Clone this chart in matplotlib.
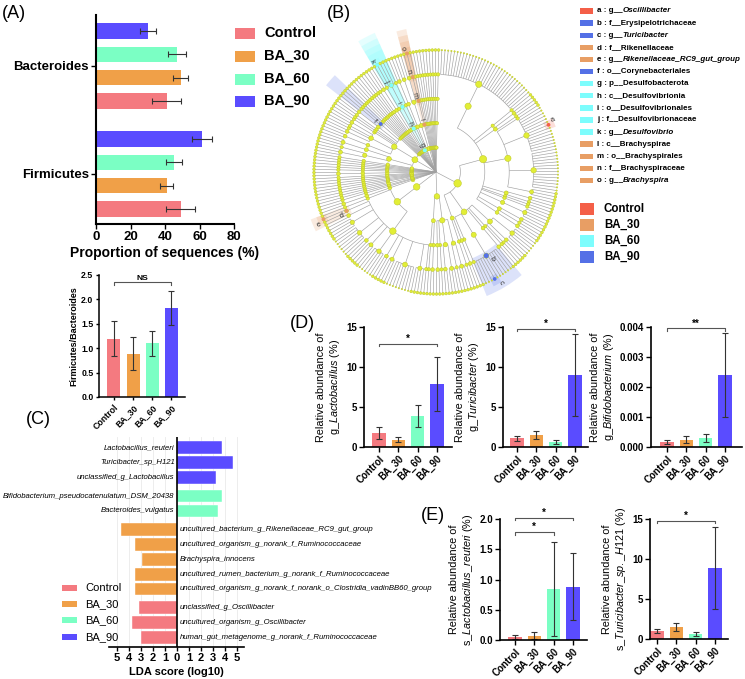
import numpy as np
import matplotlib
matplotlib.use('Agg')
import matplotlib.pyplot as plt
from matplotlib.patches import Wedge, Rectangle
from matplotlib.collections import LineCollection

plt.rcParams['font.family'] = ['Liberation Sans', 'DejaVu Sans']
plt.rcParams['mathtext.fontset'] = 'custom'
plt.rcParams['mathtext.rm'] = 'Liberation Sans'
plt.rcParams['mathtext.it'] = 'Liberation Sans:italic'
plt.rcParams['mathtext.bf'] = 'Liberation Sans:bold'

W, H = 745, 679

# ---------------- data ----------------
groups = ['Control', 'BA_30', 'BA_60', 'BA_90']
bar_colors = ['#F47A80', '#F0A048', '#7BFFC4', '#5A4CFF']

# (A) phylum proportions: rows = groups, cols = phyla
phyla_A = ['Firmicutes', 'Bacteroides']
prop_mean = [[49.0, 41.0], [41.0, 49.0], [45.0, 47.0], [61.5, 30.0]]
prop_err = [[8.5, 8.3], [3.7, 4.5], [4.7, 5.0], [5.7, 4.7]]

# Firmicutes / Bacteroides ratio
fb_mean = [1.19, 0.89, 1.10, 1.83]
fb_err = [0.36, 0.34, 0.25, 0.35]

# (C) LDA
lda_names = ['Lactobacillus_reuteri', 'Turicibacter_sp_H121', 'unclassified_g_Lactobacillus',
             'Bifidobacterium_pseudocatenulatum_DSM_20438', 'Bacteroides_vulgatus',
             'uncultured_bacterium_g_Rikenellaceae_RC9_gut_group',
             'uncultured_organism_g_norank_f_Ruminococcaceae', 'Brachyspira_innocens',
             'uncultured_rumen_bacterium_g_norank_f_Ruminococcaceae',
             'uncultured_organism_g_norank_f_norank_o_Clostridia_vadinBB60_group',
             'unclassified_g_Oscillibacter', 'uncultured_organism_g_Oscillibacter',
             'human_gut_metagenome_g_norank_f_Ruminococcaceae']
lda_scores = [3.75, 4.7, 3.25, 3.75, 3.4, -4.64, -3.47, -2.94, -3.47, -3.47, -3.17, -3.78, -3.0]
lda_groups = [3, 3, 3, 2, 2, 1, 1, 1, 1, 1, 0, 0, 0]

# (D)
lacto_mean = [1.8, 0.9, 3.85, 7.9]
lacto_err = [0.75, 0.3, 1.35, 3.4]
turi_mean = [1.1, 1.5, 0.6, 9.0]
turi_err = [0.3, 0.5, 0.28, 5.1]
bifido_mean = [0.00017, 0.00025, 0.00030, 0.0024]
bifido_err = [0.00008, 0.00013, 0.00013, 0.0014]
# (E)
reuteri_mean = [0.05, 0.07, 0.84, 0.88]
reuteri_err = [0.03, 0.06, 0.78, 0.55]
turisp_mean = [1.0, 1.5, 0.62, 8.9]
turisp_err = [0.3, 0.45, 0.28, 5.1]

# (B) cladogram: phylum -> classes -> orders -> families (number of genera)
firmicutes = [[[32], [1], [2, 1], [1, 14, 14, 3], [2, 1], [1], [1], [4], [2, 1], [2]],
              [[5, 2, 1], [1], [2], [10], [1]],
              [[2], [1]]]
proteobacteria = [[[3, 1], [3, 2], [1], [2]], [[2], [1]]]
bacteroidota = [[[1, 4, 8, 3, 2, 5, 3, 2, 6, 4, 2, 2], [1]]]
actinobacteriota = [[[3, 1], [3]], [[2], [2, 1, 1, 2], [1], [1], [1], [2], [1, 1]], [[1]], [[1]]]
desulfobacterota = [[[3]]]
spirochaetota = [[[2, 2]], [[1]]]
single = [[[1]]]
clado_tree = ([firmicutes, proteobacteria, bacteroidota, [[[2]]], single, single,
               [[[1], [1]]], [[[1]], [[1]]], single, [[[1]], [[1]]], [[[1]], [[2]]]]
              + [single] * 6 + [actinobacteriota] + [single] * 7 + [[[[2]]], single,
              desulfobacterota, single, [[[2]]], spirochaetota] + [single] * 10)

clade_letters = list('abcdefghijklmno')
clade_prefix = ['g__', 'f__', 'g__', 'f__', 'g__', 'o__', 'p__', 'c__', 'o__', 'f__', 'g__',
                'c__', 'o__', 'f__', 'g__']
clade_taxa = ['Oscillibacter', 'Erysipelotrichaceae', 'Turicibacter', 'Rikenellaceae',
              'Rikenellaceae_RC9_gut_group', 'Corynebacteriales', 'Desulfobacterota',
              'Desulfovibrionia', 'Desulfovibrionales', 'Desulfovibrionaceae', 'Desulfovibrio',
              'Brachyspirae', 'Brachyspirales', 'Brachyspiraceae', 'Brachyspira']
clade_group = [0, 3, 3, 1, 1, 3, 2, 2, 2, 2, 2, 1, 1, 1, 1]
clade_path = [(0, 0, 3, 1, 6), (0, 1, 3, 0), (0, 1, 3, 0, 6), (2, 0, 0, 11), (2, 0, 0, 11, 1),
              (17, 1, 6), (27,), (27, 0), (27, 0, 0), (27, 0, 0, 0), (27, 0, 0, 0, 0),
              (30, 1), (30, 1, 0), (30, 1, 0, 0), (30, 1, 0, 0, 0)]
clade_colors = ['#F45F48', '#E89E64', '#7DFDFD', '#5470E6']

# ---------------- figure ----------------
fig = plt.figure(figsize=(W / 100, H / 100), dpi=100)


def px_axes(x0, y0, x1, y1):
    return fig.add_axes([x0 / W, 1 - y1 / H, (x1 - x0) / W, (y1 - y0) / H])


EKW = dict(ecolor='#333333', elinewidth=0.8, capsize=2.0, capthick=0.8)


def clean(ax, lw=1.2):
    for s in ['top', 'right']:
        ax.spines[s].set_visible(False)
    for s in ['left', 'bottom']:
        ax.spines[s].set_linewidth(lw)
    ax.tick_params(width=1.0, length=3.5, pad=1.5)


def bracket(ax, x0, x1, y, h, text, fs=7):
    ax.plot([x0, x0, x1, x1], [y - h, y, y, y - h], color='#555555', lw=0.8, clip_on=False)
    ax.text((x0 + x1) / 2, y, text, ha='center', va='bottom', fontsize=fs, fontweight='bold')


# ---- (A)
axA = px_axes(96, 15, 234, 224)
off = (np.arange(4) - 1.5) * 0.216
for gi in range(4):
    axA.barh(np.arange(2) + off[gi], prop_mean[gi], height=0.14, color=bar_colors[gi],
             xerr=prop_err[gi], error_kw=EKW)
axA.set_xlim(0, 80)
axA.set_ylim(-0.463, 1.472)
clean(axA, 1.5)
axA.set_yticks([0, 1])
axA.set_yticklabels(phyla_A, fontsize=9.5, fontweight='bold')
axA.set_xticks([0, 20, 40, 60, 80])
axA.set_xticklabels(['0', '20', '40', '60', '80'], fontsize=9.5, fontweight='bold')
axA.set_xlabel('Proportion of sequences (%)', fontsize=10, fontweight='bold', labelpad=2)

# ---- F/B ratio
axF = px_axes(99, 275, 185, 397)
axF.bar(range(4), fb_mean, width=0.68, color=bar_colors, yerr=fb_err, error_kw=EKW)
axF.set_xlim(-0.78, 3.72)
axF.set_ylim(0, 2.5)
clean(axF, 1.1)
axF.set_yticks(np.arange(0, 2.51, 0.5))
axF.set_yticklabels(['0.0', '0.5', '1.0', '1.5', '2.0', '2.5'], fontsize=6.3, fontweight='bold')
axF.set_xticks(range(4))
axF.set_xticklabels(groups, rotation=45, ha='right', rotation_mode='anchor', fontsize=6.3,
                    fontweight='bold')
axF.tick_params(length=2.5)
axF.set_ylabel('Firmicutes/Bacteroides', fontsize=6.5, fontweight='bold', labelpad=2)
bracket(axF, 0, 3, 2.35, 0.05, 'NS', fs=6)

# ---- (C) LDA
axC = px_axes(108.6, 437, 244.2, 647)
ypos = []
gap = 0.0
for i, g in enumerate(lda_groups):
    if i > 0 and g != lda_groups[i - 1]:
        gap += 0.25
    ypos.append(i + gap)
for v in range(-5, 6):
    axC.axvline(v, color='#EAEAEA', lw=0.6, zorder=0)
for i in range(len(lda_names)):
    axC.barh(ypos[i], lda_scores[i], height=0.86, color=bar_colors[lda_groups[i]],
             edgecolor='white', linewidth=0.3, zorder=2)
    if lda_scores[i] > 0:
        axC.text(-0.2, ypos[i], lda_names[i], ha='right', va='center', fontsize=5.6,
                 fontstyle='italic')
    else:
        axC.text(0.2, ypos[i], lda_names[i], ha='left', va='center', fontsize=5.6,
                 fontstyle='italic')
axC.axvline(0, color='black', lw=1.2, zorder=3)
axC.set_xlim(-5.7, 5.6)
axC.set_ylim(ypos[-1] + 0.65, -0.72)
for s in ['top', 'right', 'left']:
    axC.spines[s].set_visible(False)
axC.spines['bottom'].set_linewidth(1.2)
axC.set_yticks([])
axC.set_xticks(range(-5, 6))
axC.set_xticklabels([str(abs(v)) for v in range(-5, 6)], fontsize=8, fontweight='bold')
axC.tick_params(width=1.0, length=3, pad=1.5)
axC.set_xlabel('LDA score (log10)', fontsize=8, fontweight='bold', labelpad=3)


# ---- (D) / (E)
def bar_panel(box, mean, err, xl, yl, yticks, ylabels, ylabel, brackets):
    ax = px_axes(*box)
    ax.bar(range(4), mean, width=0.7, color=bar_colors, yerr=err, error_kw=EKW)
    ax.set_xlim(*xl)
    ax.set_ylim(*yl)
    clean(ax, 1.2)
    ax.set_yticks(yticks)
    ax.set_yticklabels(ylabels, fontsize=7, fontweight='bold')
    ax.set_xticks(range(4))
    ax.set_xticklabels(groups, rotation=45, ha='right', rotation_mode='anchor', fontsize=7,
                       fontweight='bold')
    ax.set_ylabel(ylabel, fontsize=7.8, labelpad=3)
    for b in brackets:
        bracket(ax, *b)
    return ax


bar_panel((364, 327, 452, 447), lacto_mean, lacto_err, (-0.777, 3.78), (0, 15),
          [0, 5, 10, 15], ['0', '5', '10', '15'],
          'Relative abundance of\n' + r'g_$\mathit{Lactobacillus}$ (%)',
          [(0, 3, 12.9, 0.3, '*')])
bar_panel((503, 327, 588, 447), turi_mean, turi_err, (-0.725, 3.68), (0, 15),
          [0, 5, 10, 15], ['0', '5', '10', '15'],
          'Relative abundance of\n' + r'g_$\mathit{Turicibacter}$ (%)',
          [(0, 3, 14.8, 0.3, '*')])
bar_panel((651, 327, 742, 447), bifido_mean, bifido_err, (-0.83, 3.89), (0, 0.004),
          [0, 0.001, 0.002, 0.003, 0.004], ['0.000', '0.001', '0.002', '0.003', '0.004'],
          'Relative abundance of\n' + r'g_$\mathit{Bifidobacterium}$ (%)',
          [(0, 3, 0.00395, 0.00008, '**')])
bar_panel((500, 519, 587, 640), reuteri_mean, reuteri_err, (-0.78, 3.73), (0, 2.0),
          [0, 0.5, 1.0, 1.5, 2.0], ['0.0', '0.5', '1.0', '1.5', '2.0'],
          'Relative abundance of\n' + r's_$\mathit{Lactobacillus\_reuteri}$ (%)',
          [(0, 3, 2.02, 0.04, '*'), (0, 2, 1.78, 0.04, '*')])
bar_panel((650, 519, 728, 639), turisp_mean, turisp_err, (-0.36, 3.68), (0, 15),
          [0, 5, 10, 15], ['0', '5', '10', '15'],
          'Relative abundance of\n' + r's_$\mathit{Turicibacter\_sp.\_H121}$ (%)',
          [(0, 3, 14.75, 0.3, '*')])

# ---- (B) cladogram
axB = px_axes(436 - 170, 172 - 170, 436 + 170, 172 + 170)
axB.set_xlim(-170, 170)
axB.set_ylim(-170, 170)
axB.axis('off')
axB.patch.set_visible(False)

R_STEP = 24.4
leaf_i = [0]


def build(spec, level, fam_n=0):
    if level == 5:
        n = {'level': 5, 'leaf': leaf_i[0], 'kids': [], 'fam_n': fam_n}
        leaf_i[0] += 1
        return n
    if level == 4:
        kids = [build(None, 5, spec) for _ in range(spec)]
    else:
        kids = [build(s, level + 1) for s in spec]
    return {'level': level, 'kids': kids}


roots = [build(p, 1) for p in clado_tree]
N = leaf_i[0]
dth = 360.0 / N
th0 = 88.0


def place(n):
    if n['level'] == 5:
        n['ang'] = th0 - (n['leaf'] + 0.5) * dth
        n['lo'] = n['hi'] = n['ang']
        n['nl'] = 1
    else:
        for k in n['kids']:
            place(k)
        n['ang'] = (n['kids'][0]['ang'] + n['kids'][-1]['ang']) / 2
        n['lo'] = n['kids'][-1]['lo']
        n['hi'] = n['kids'][0]['hi']
        n['nl'] = sum(k['nl'] for k in n['kids'])
    n['r'] = R_STEP * n['level']


for p in roots:
    place(p)


def pol(r, a):
    t = np.deg2rad(a)
    return (r * np.cos(t), r * np.sin(t))


def node_d(n):
    if n['level'] == 5:
        return 1.4 if n['fam_n'] >= 5 else 2.7
    return 2.6 + 1.05 * np.log(1 + n['nl'])


segs = []
all_nodes = []


def collect(n):
    all_nodes.append(n)
    if n['kids']:
        a1 = n['kids'][0]['ang']
        a2 = n['kids'][-1]['ang']
        if len(n['kids']) > 1:
            aa = np.linspace(a1, a2, max(3, int(abs(a1 - a2) * 2)))
            segs.append([pol(n['r'], a) for a in aa])
        for k in n['kids']:
            segs.append([pol(n['r'], k['ang']), pol(k['r'], k['ang'])])
            collect(k)


for p in roots:
    segs.append([(0, 0), pol(p['r'], p['ang'])])
    collect(p)

# highlight wedges
hl_nodes = []
for li, path in enumerate(clade_path):
    n = roots[path[0]]
    for idx in path[1:]:
        n = n['kids'][idx]
    hl_nodes.append(n)
    col = clade_colors[clade_group[li]]
    r_end = 128 + 6 * (5 - n['level'])
    pad = 2.0
    axB.add_patch(Wedge((0, 0), r_end, n['lo'] - pad, n['hi'] + pad,
                        width=r_end - (n['r'] - 4), facecolor=col, alpha=0.2, lw=0, zorder=0))

axB.add_collection(LineCollection(segs, colors='#A0A0A0', linewidths=0.45, zorder=1))
xs = [pol(n['r'], n['ang'])[0] for n in all_nodes]
ys = [pol(n['r'], n['ang'])[1] for n in all_nodes]
ds = [node_d(n) for n in all_nodes]
axB.scatter(xs, ys, s=[(d * 0.72) ** 2 for d in ds], facecolor='#E2EE36', edgecolor='#BCC62A',
            linewidths=0.35, zorder=2)
for li, n in enumerate(hl_nodes):
    x, y = pol(n['r'], n['ang'])
    d = max(node_d(n), 3.8)
    axB.scatter([x], [y], s=(d * 0.72) ** 2, facecolor=clade_colors[clade_group[li]],
                edgecolor='none', zorder=3)
    tx, ty = pol(n['r'] + 6, n['ang'] + 1.5)
    a = n['ang'] % 360
    rot = a if (a < 90 or a > 270) else a - 180
    axB.text(tx, ty, clade_letters[li], fontsize=5.2, rotation=rot, ha='center', va='center',
             color='#333333', zorder=4)

# ---- overlay for legends and panel labels
ov = fig.add_axes([0, 0, 1, 1])
ov.set_xlim(0, W)
ov.set_ylim(H, 0)
ov.axis('off')
ov.patch.set_visible(False)

# A legend
for gi, y in enumerate([33, 56, 79, 101]):
    ov.add_patch(Rectangle((235, y - 5.5), 20, 11, facecolor=bar_colors[gi], lw=0))
    ov.text(264, y, groups[gi], fontsize=10.5, fontweight='bold', va='center', ha='left')

# C legend
for gi, y in enumerate([588, 604, 620, 637]):
    ov.add_patch(Rectangle((62, y - 3), 15, 6, facecolor=bar_colors[gi], lw=0))
    ov.text(85, y, groups[gi], fontsize=8, va='center', ha='left')

# B legend
for li in range(15):
    y = 11 + li * 12.1
    ov.add_patch(Rectangle((580, y - 2.7), 13, 5.4, facecolor=clade_colors[clade_group[li]],
                           lw=0))
    if clade_prefix[li] == 'g__':
        t1 = ov.text(597, y, f'{clade_letters[li]} : {clade_prefix[li]}', fontsize=5.8,
                     fontweight='bold', va='center', ha='left')
        ov.annotate(clade_taxa[li], xy=(1, 0.5), xycoords=t1, va='center', ha='left',
                    fontsize=5.8, fontweight='bold', fontstyle='italic')
    else:
        ov.text(597, y, f'{clade_letters[li]} : {clade_prefix[li]}{clade_taxa[li]}',
                fontsize=5.8, fontweight='bold', va='center', ha='left')
for gi, y in enumerate([209, 225, 241, 257]):
    ov.add_patch(Rectangle((580, y - 6), 14, 12, facecolor=clade_colors[gi], lw=0))
    ov.text(604, y, groups[gi], fontsize=8.3, fontweight='bold', va='center', ha='left')

# panel labels
for lab, x, y in [('(A)', 2, 13), ('(B)', 327, 13), ('(C)', 26, 420), ('(D)', 290, 323),
                  ('(E)', 421, 515)]:
    ov.text(x, y, lab, fontsize=13, va='center', ha='left')

fig.savefig('out.png', dpi=100)
